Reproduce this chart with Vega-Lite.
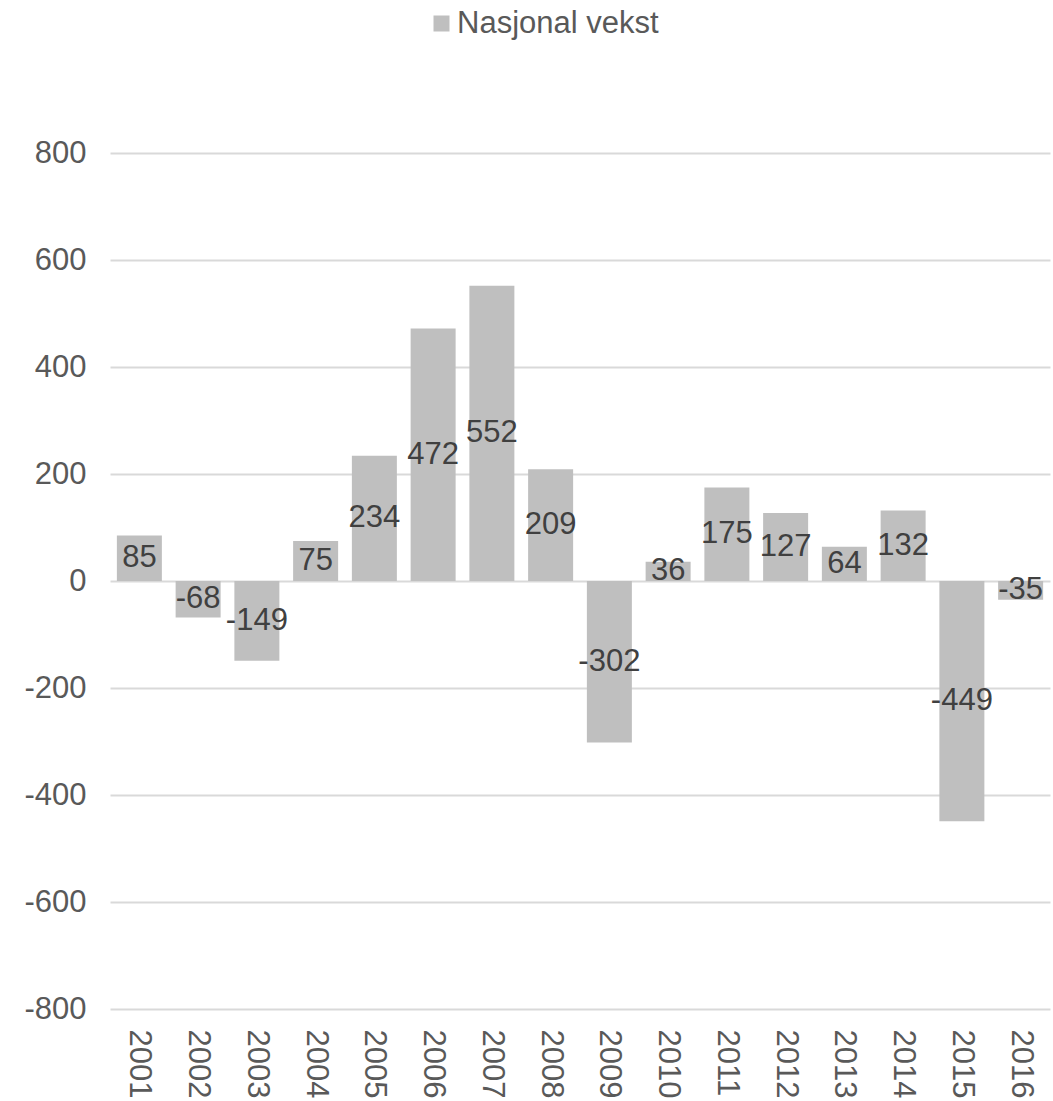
{
  "$schema": "https://vega.github.io/schema/vega-lite/v6.json",
  "width": 940,
  "height": 856,
  "autosize": {"type": "none"},
  "padding": {"left": 110, "top": 153, "right": 3, "bottom": 92},
  "background": "white",
  "config": {
    "view": {"stroke": null},
    "font": "Liberation Sans",
    "locale": {
      "number": {
        "decimal": ".",
        "thousands": ",",
        "grouping": [3],
        "currency": ["$", ""],
        "minus": "-"
      }
    }
  },
  "data": {
    "values": [
      {"year": "2001", "v": 85, "serie": "Nasjonal vekst"},
      {"year": "2002", "v": -68, "serie": "Nasjonal vekst"},
      {"year": "2003", "v": -149, "serie": "Nasjonal vekst"},
      {"year": "2004", "v": 75, "serie": "Nasjonal vekst"},
      {"year": "2005", "v": 234, "serie": "Nasjonal vekst"},
      {"year": "2006", "v": 472, "serie": "Nasjonal vekst"},
      {"year": "2007", "v": 552, "serie": "Nasjonal vekst"},
      {"year": "2008", "v": 209, "serie": "Nasjonal vekst"},
      {"year": "2009", "v": -302, "serie": "Nasjonal vekst"},
      {"year": "2010", "v": 36, "serie": "Nasjonal vekst"},
      {"year": "2011", "v": 175, "serie": "Nasjonal vekst"},
      {"year": "2012", "v": 127, "serie": "Nasjonal vekst"},
      {"year": "2013", "v": 64, "serie": "Nasjonal vekst"},
      {"year": "2014", "v": 132, "serie": "Nasjonal vekst"},
      {"year": "2015", "v": -449, "serie": "Nasjonal vekst"},
      {"year": "2016", "v": -35, "serie": "Nasjonal vekst"}
    ]
  },
  "encoding": {
    "x": {
      "field": "year",
      "type": "ordinal",
      "scale": {"paddingInner": 0.234, "paddingOuter": 0.117},
      "axis": {
        "title": null,
        "labelAngle": 90,
        "labelFontSize": 31,
        "labelColor": "#595959",
        "labelPadding": 20,
        "ticks": false,
        "domain": false,
        "grid": false
      }
    }
  },
  "layer": [
    {
      "mark": {"type": "bar", "color": "#bfbfbf"},
      "encoding": {
        "y": {
          "field": "v",
          "type": "quantitative",
          "scale": {"domain": [-800, 800], "nice": false},
          "axis": {
            "title": null,
            "values": [-800, -600, -400, -200, 0, 200, 400, 600, 800],
            "labelFontSize": 31,
            "labelColor": "#595959",
            "labelPadding": 24,
            "ticks": false,
            "domain": false,
            "gridColor": "#d9d9d9",
            "gridWidth": 2
          }
        },
        "color": {
          "field": "serie",
          "type": "nominal",
          "scale": {"range": ["#bfbfbf"]},
          "legend": {
            "title": null,
            "orient": "none",
            "legendX": 316,
            "legendY": -145,
            "symbolType": "square",
            "symbolSize": 256,
            "symbolStrokeWidth": 0,
            "labelFontSize": 31,
            "labelColor": "#595959",
            "labelOffset": 0,
            "labelLimit": 0,
            "padding": 0
          }
        }
      }
    },
    {
      "mark": {"type": "text", "fontSize": 31, "color": "#404040", "align": "center", "baseline": "middle"},
      "encoding": {
        "y": {
          "field": "v",
          "type": "quantitative",
          "scale": {"domain": [-1600, 1600], "nice": false},
          "axis": null
        },
        "text": {"field": "v", "type": "quantitative"}
      }
    }
  ],
  "resolve": {"scale": {"y": "independent"}}
}
